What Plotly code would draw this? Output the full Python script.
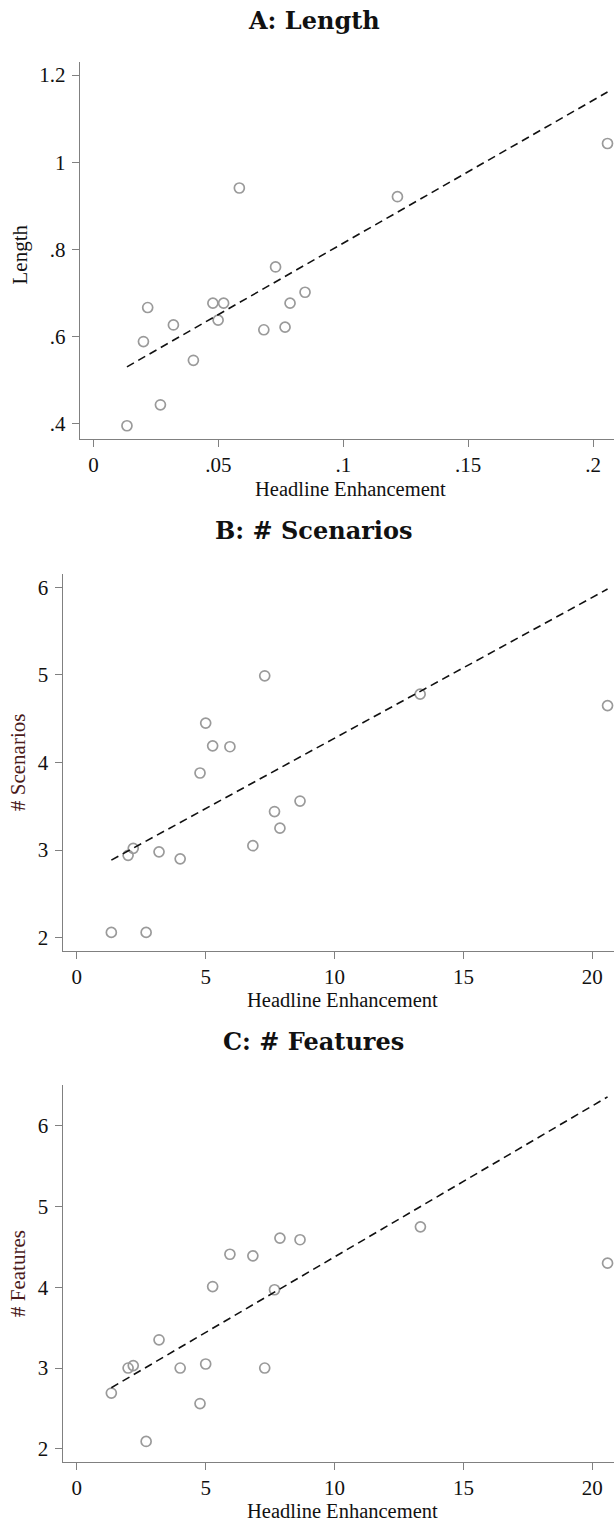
import plotly.graph_objects as go

W, H = 614, 1521

# ---------------- data ----------------
a_x = [0.0134, 0.0268, 0.0200, 0.0217, 0.0320, 0.0400, 0.0478, 0.0521, 0.0499,
       0.0682, 0.0729, 0.0767, 0.0787, 0.0847, 0.1217, 0.0584, 0.2058]
a_y = [0.396, 0.444, 0.589, 0.667, 0.627, 0.546, 0.677, 0.677, 0.638,
       0.616, 0.760, 0.622, 0.677, 0.702, 0.921, 0.941, 1.043]
a_fit_x = [0.0134, 0.2058]
a_fit_y = [0.531, 1.161]

b_x = [1.34, 2.69, 1.99, 2.19, 3.19, 4.01, 4.78, 6.83, 7.67, 7.88, 8.66,
       5.00, 5.27, 5.94, 7.29, 13.32, 20.59]
b_y = [2.06, 2.06, 2.94, 3.02, 2.98, 2.90, 3.88, 3.05, 3.44, 3.25, 3.56,
       4.45, 4.19, 4.18, 4.99, 4.78, 4.65]
b_fit_x = [1.34, 20.59]
b_fit_y = [2.886, 5.98]

c_x = [1.34, 2.69, 1.99, 2.19, 3.19, 4.01, 4.78, 5.00, 5.27, 7.29, 7.67,
       20.59, 5.94, 6.83, 7.88, 8.66, 13.33]
c_y = [2.69, 2.09, 3.00, 3.03, 3.35, 3.00, 2.56, 3.05, 4.01, 3.00, 3.97,
       4.30, 4.41, 4.39, 4.61, 4.59, 4.75]
c_fit_x = [1.34, 20.59]
c_fit_y = [2.756, 6.36]

a_xticks = [0, 0.05, 0.1, 0.15, 0.2]
a_xtext = ["0", ".05", ".1", ".15", ".2"]
a_yticks = [0.4, 0.6, 0.8, 1.0, 1.2]
a_ytext = [".4", ".6", ".8", "1", "1.2"]
bc_xticks = [0, 5, 10, 15, 20]
b_yticks = [2, 3, 4, 5, 6]
c_yticks = [2, 3, 4, 5, 6]

titles = ["A: Length", "B: # Scenarios", "C: # Features"]
ytitles = ["Length", "# Scenarios", "# Features"]
xtitle = "Headline Enhancement"

# ---------------- layout geometry (pixels) ----------------
panels = [
    dict(left=79.9, top=62, bottom=439, xr=[-0.00544, 0.2084], yr=[0.3656, 1.2298],
         title_y=20, xt_y=488.5, yt=(19.5, 255), ytcol="#111111"),
    dict(left=62.7, top=574, bottom=951, xr=[-0.547, 20.84], yr=[1.848, 6.152],
         title_y=530.5, xt_y=999.5, yt=(17.5, 762.5), ytcol="#4a1a1a"),
    dict(left=62.7, top=1085.3, bottom=1461.7, xr=[-0.547, 20.84], yr=[1.839, 6.504],
         title_y=1041, xt_y=1510.5, yt=(17.5, 1273.5), ytcol="#4a1a1a"),
]

serif = "Liberation Serif"
title_font = dict(family="DejaVu Serif", size=24, color="#111111")
tick_font = dict(family=serif, size=21, color="#111111")
axis_col = "#808080"

fig = go.Figure()

data = [(a_x, a_y, a_fit_x, a_fit_y), (b_x, b_y, b_fit_x, b_fit_y), (c_x, c_y, c_fit_x, c_fit_y)]
xtick_sets = [(a_xticks, a_xtext), (bc_xticks, [str(v) for v in bc_xticks]), (bc_xticks, [str(v) for v in bc_xticks])]
ytick_sets = [(a_yticks, a_ytext), (b_yticks, [str(v) for v in b_yticks]), (c_yticks, [str(v) for v in c_yticks])]

annotations = []
for i, (p, (xs, ys, fx, fy)) in enumerate(zip(panels, data)):
    n = "" if i == 0 else str(i + 1)
    xa, ya = "x" + n, "y" + n
    fig.add_trace(go.Scatter(x=xs, y=ys, mode="markers", xaxis=xa, yaxis=ya,
                             marker=dict(symbol="circle-open", size=10, color="#9a9a9a",
                                         line=dict(width=1.7, color="#9a9a9a")),
                             cliponaxis=False, showlegend=False))
    fig.add_trace(go.Scatter(x=fx, y=fy, mode="lines", xaxis=xa, yaxis=ya,
                             line=dict(color="#111111", width=1.6, dash="8px,5px"),
                             cliponaxis=False, showlegend=False))
    xdom = [p["left"] / W, 1.0]
    ydom = [1 - p["bottom"] / H, 1 - p["top"] / H]
    tv, tt = xtick_sets[i]
    yv, yt = ytick_sets[i]
    fig.update_layout(**{
        "xaxis" + n: dict(domain=xdom, range=p["xr"], anchor=ya, showgrid=False, zeroline=False,
                          showline=True, linecolor=axis_col, linewidth=1.4,
                          ticks="outside", ticklen=7, tickwidth=1.2, tickcolor=axis_col,
                          tickvals=tv, ticktext=tt, tickfont=tick_font, ticklabelstandoff=0),
        "yaxis" + n: dict(domain=ydom, range=p["yr"], anchor=xa, showgrid=False, zeroline=False,
                          showline=True, linecolor=axis_col, linewidth=1.4,
                          ticks="outside", ticklen=7, tickwidth=1.2, tickcolor=axis_col,
                          tickvals=yv, ticktext=yt, tickfont=tick_font, ticklabelstandoff=2),
    })
    annotations.append(dict(text="<b>" + titles[i] + "</b>", xref="paper", yref="paper",
                            x=313.5 / W, y=1 - p["title_y"] / H, xanchor="center", yanchor="middle",
                            showarrow=False, font=title_font))
    annotations.append(dict(text=xtitle, xref="paper", yref="paper",
                            x=(350.5 if i == 0 else 342.6) / W, y=1 - p["xt_y"] / H,
                            xanchor="center", yanchor="middle", showarrow=False,
                            font=dict(family=serif, size=20.5, color="#111111")))
    annotations.append(dict(text=ytitles[i], xref="paper", yref="paper",
                            x=p["yt"][0] / W, y=1 - p["yt"][1] / H, textangle=-90,
                            xanchor="center", yanchor="middle", showarrow=False,
                            font=dict(family=serif, size=21, color=p["ytcol"])))

fig.update_layout(width=W, height=H, margin=dict(l=0, r=0, t=0, b=0),
                  paper_bgcolor="white", plot_bgcolor="white",
                  annotations=annotations)

fig.write_html("out.html")
